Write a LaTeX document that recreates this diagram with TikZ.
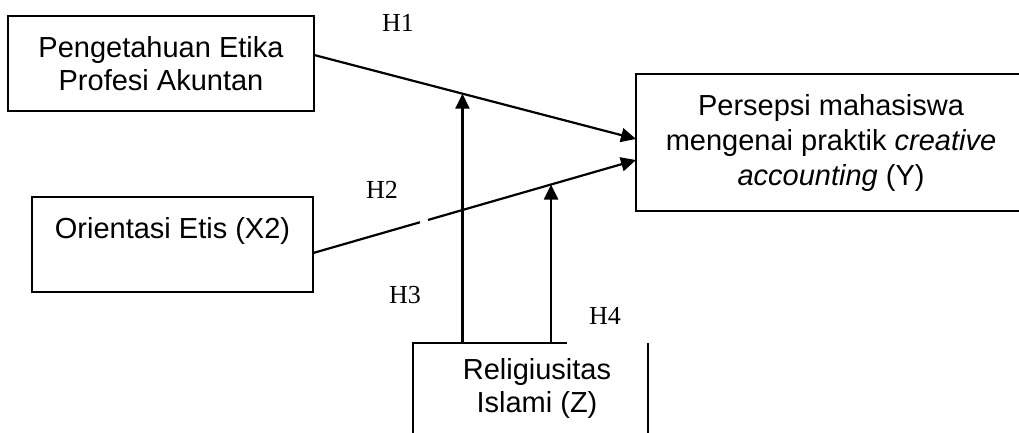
\documentclass[tikz,border=0pt]{standalone}
\usepackage{fontspec}
\setmainfont{Liberation Sans}
\newfontfamily\hfont{Liberation Serif}
\usetikzlibrary{arrows.meta,calc}
\begin{document}
\begin{tikzpicture}[x=1pt,y=-1pt,
  box/.style={draw, line width=1.5pt, inner sep=0pt, outer sep=0pt, align=center,
    font=\fontsize{29}{33.5}\selectfont},
  outline/.style={line width=1.5pt},
  conn/.style={line width=2.2pt},
  tip/.style={-{Triangle[length=15pt,width=14pt]}},
  hlab/.style={font=\hfont\fontsize{26}{30}\selectfont, inner sep=0pt}]
\useasboundingbox (0,0) rectangle (1019,432);
% boxes
\node[box, minimum width=306pt, minimum height=95pt] (x1) at (161,63.5)
  {Pengetahuan Etika\\Profesi Akuntan};
\node[box, minimum width=281pt, minimum height=95pt] (x2) at (172.5,244.5)
  {Orientasi Etis (X2)\\\mbox{}};
\node[box, minimum width=390pt, minimum height=137pt,
  font=\fontsize{29}{35}\selectfont] (y) at (831,142.5)
  {Persepsi mahasiswa\\mengenai praktik \textit{creative}\\\textit{accounting} (Y)};
\node[align=center, inner sep=0pt, font=\fontsize{29}{33}\selectfont] (z) at (537,388.5)
  {Religiusitas\\Islami (Z)};
\coordinate (ztop) at (413,343);
\draw[outline] (413,445) -- (ztop) -- (567,343);
\draw[outline] (648,343) -- (648,445);
% connectors
\coordinate (a1) at ($(x1.north east)!0.41!(x1.south east)$);
\coordinate (b1) at ($(y.north west)!0.474!(y.south west)$);
\draw[conn,tip] (a1) -- (b1) coordinate[pos=0.461] (m1);
\coordinate (a2) at ($(x2.north east)!0.59!(x2.south east)$);
\coordinate (b2) at ($(y.north west)!0.628!(y.south west)$);
\path (a2) -- (b2) coordinate[pos=0.331] (g1) coordinate[pos=0.356] (g2)
  coordinate[pos=0.737] (m2);
\draw[conn] (a2) -- (g1);
\draw[conn,tip] (g2) -- (b2);
\draw[conn,tip] (m1 |- ztop) -- (m1);
\draw[conn,tip] (m2 |- ztop) -- (m2);
% labels
\node[hlab] (h1) at (398,23) {H1};
\node[hlab] (h2) at (382,190) {H2};
\node[hlab] (h3) at (405,295) {H3};
\node[hlab] (h4) at (605,316) {H4};
\end{tikzpicture}
\end{document}
